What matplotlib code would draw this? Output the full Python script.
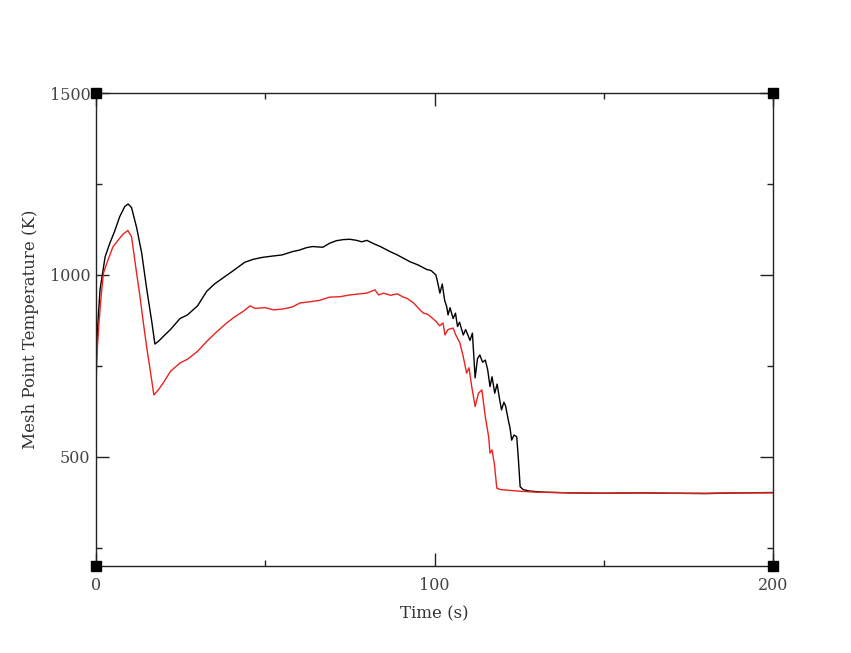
import numpy as np
import matplotlib
matplotlib.use("Agg")
import matplotlib.pyplot as plt
from matplotlib.ticker import MultipleLocator

# black trace (time s, temperature K)
black_t = [0, 0.5, 1.2, 2.7, 4, 5.5, 7, 8.5, 9.5, 10.5, 12, 13.5, 15, 16.5, 17.4,
           18.5, 20, 22, 24.8, 27, 30, 32.7, 35, 38, 40, 42.5, 44, 46.5, 49, 52.3,
           55, 58, 60, 62.2, 64, 67, 69, 71, 73, 75, 77, 78.5, 80, 82, 84, 86.9,
           89, 92.8, 95, 97.7, 99, 100.4, 100.8, 101.6, 102.3, 103, 103.6, 104,
           104.6, 105.5, 106.2, 106.8, 107.4, 108.5, 109.2, 110.5, 111.2, 112,
           112.7, 113.4, 114.2, 115, 115.7, 116.4, 117, 117.8, 118.5, 119.2, 119.8,
           120.5, 121, 121.8, 122.3, 122.8, 123.5, 124.3, 124.8, 125.3, 126.2,
           128, 132, 140, 150, 160, 170, 180, 190, 200]
black_T = [740, 860, 960, 1050, 1085, 1120, 1160, 1188, 1195, 1185, 1130, 1060, 960, 870, 810,
           818, 832, 850, 880, 890, 915, 955, 975, 995, 1008, 1025, 1035, 1043, 1048, 1052,
           1055, 1064, 1068, 1075, 1078, 1076, 1087, 1094, 1097, 1098, 1095, 1091, 1095, 1086, 1078, 1064,
           1055, 1036, 1028, 1015, 1012, 1000, 985, 950, 975, 930, 913, 890,
           910, 880, 895, 858, 870, 835, 850, 820, 840, 717,
           770, 780, 760, 766, 740, 693, 720, 675, 700, 660, 629,
           650, 640, 601, 580, 546, 560, 555, 491, 418, 410,
           406, 403, 401, 400, 401, 400, 399, 401, 402]

# red trace
red_t = [0, 0.4, 0.9, 1.5, 2.2, 3.5, 5, 6.5, 8, 9.4, 10.5, 12, 13, 14, 15, 16, 17.1,
         18.5, 20, 22, 24.8, 27, 30, 32.7, 35, 38.6, 41, 43.5, 45.5, 47, 50, 52.4,
         55, 58, 60.3, 63, 66, 69, 72, 75, 78, 80, 82.4, 83.5, 85, 87, 89, 90.8,
         92, 93.8, 95.7, 96.7, 98, 99.5, 100.6, 101.5, 102.5, 103.1, 104, 105.5,
         106.3, 107.5, 108.5, 109.5, 110.2, 111, 112, 113, 114, 115, 116, 116.4,
         117, 117.7, 118.4, 119.5, 122, 126, 130, 140, 150, 160, 170, 180, 190, 200]
red_T = [700, 800, 870, 940, 1005, 1040, 1077, 1095, 1112, 1122, 1105, 1005, 940, 868, 800, 739, 670,
         685, 705, 735, 758, 768, 790, 817, 838, 868, 885, 900, 915, 908, 910, 904,
         906, 912, 923, 926, 930, 939, 940, 945, 948, 950, 959, 945, 950, 944, 948, 939,
         935, 923, 904, 895, 892, 880, 871, 860, 868, 835, 850, 854,
         835, 813, 775, 730, 745, 693, 638, 675, 684, 611, 555, 510,
         519, 480, 414, 410, 408, 405, 403, 401, 400, 401, 400, 400, 401, 401]

x_min, x_max = 0, 200
y_min, y_max = 200, 1500

fig = plt.figure(figsize=(8.51, 6.53), dpi=100)
ax = fig.add_axes([96/851, 1 - 566/653, (773 - 96)/851, (566 - 93)/653])

ax.plot(black_t, black_T, color="black", lw=1.0)
ax.plot(red_t, red_T, color="#e8231f", lw=1.0)

ax.set_xlim(x_min, x_max)
ax.set_ylim(y_min, y_max)

# black squares at the corners
ax.plot([x_min, x_max, x_min, x_max], [y_min, y_min, y_max, y_max], "s",
        color="black", ms=7.5, clip_on=False, zorder=5)

ax.xaxis.set_major_locator(MultipleLocator(100))
ax.xaxis.set_minor_locator(MultipleLocator(50))
ax.yaxis.set_major_locator(MultipleLocator(500))
ax.yaxis.set_minor_locator(MultipleLocator(250))

for s in ax.spines.values():
    s.set_color("#222222")
    s.set_linewidth(1.0)

ax.tick_params(which="both", direction="in", top=True, right=True,
               color="#222222", width=1.0, labelcolor="#444444")
ax.tick_params(which="major", length=9.5)
ax.tick_params(which="minor", length=4.5)
ax.tick_params(axis="x", which="major", pad=8)
ax.tick_params(axis="y", which="major", pad=4)

for lab in ax.get_xticklabels() + ax.get_yticklabels():
    lab.set_family("DejaVu Serif")
    lab.set_fontsize(11.5)

ax.set_xlabel("Time (s)", family="DejaVu Serif", fontsize=12, color="#333333", labelpad=8)
ax.set_ylabel("Mesh Point Temperature (K)", family="DejaVu Serif", fontsize=12,
              color="#333333", labelpad=8)

fig.savefig("out.png", dpi=100)
